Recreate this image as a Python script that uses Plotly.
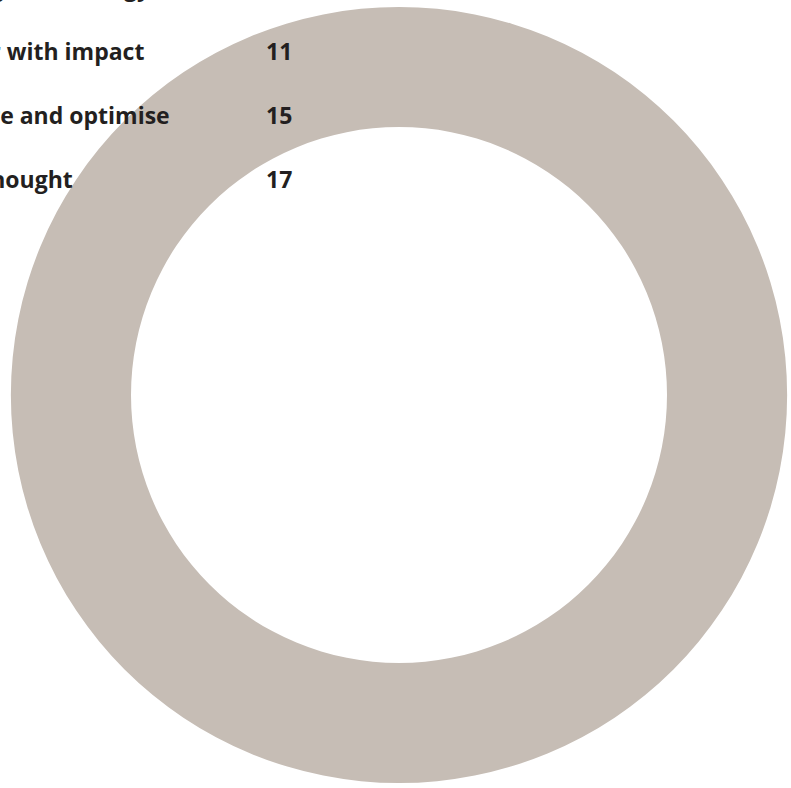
import plotly.graph_objects as go

W, H = 791, 788

# Contents listing drawn over the ring
section_titles = ["Shape your strategy", "Deliver with impact", "Measure and optimise", "Food for thought"]
section_pages = ["", "11", "15", "17"]
title_right_px = [153, 146, 172, 75]
row_baseline_px = [-4, 60, 124, 188]
page_right_px = 294

# Ring
ring_values = [1]
ring_color = "#c6bdb5"
text_color = "#231f20"

cx, cy, R = 399, 395, 388
hole = 268 / 388

fig = go.Figure(go.Pie(
    values=ring_values,
    hole=hole,
    sort=False,
    textinfo="none",
    hoverinfo="skip",
    marker=dict(colors=[ring_color], line=dict(width=0)),
    domain=dict(x=[(cx - R) / W, (cx + R) / W],
                y=[1 - (cy + R) / H, 1 - (cy - R) / H]),
    showlegend=False,
))

FS = 23
FONT = "Open Sans"
shift = 0.39 * FS  # baseline -> box middle

annotations = []
for title, page, xr, yb in zip(section_titles, section_pages, title_right_px, row_baseline_px):
    ym = 1 - (yb - shift) / H
    annotations.append(dict(
        text=title, x=xr / W, y=ym, xref="paper", yref="paper",
        xanchor="right", yanchor="middle", showarrow=False,
        font=dict(family=FONT, size=FS, color=text_color, weight="bold"),
    ))
    if page:
        annotations.append(dict(
            text=page, x=page_right_px / W, y=ym, xref="paper", yref="paper",
            xanchor="right", yanchor="middle", showarrow=False,
            font=dict(family=FONT, size=FS, color=text_color, weight="bold"),
        ))

fig.update_layout(
    width=W, height=H,
    margin=dict(l=0, r=0, t=0, b=0),
    paper_bgcolor="white",
    plot_bgcolor="white",
    annotations=annotations,
)

fig.write_html("out.html")
